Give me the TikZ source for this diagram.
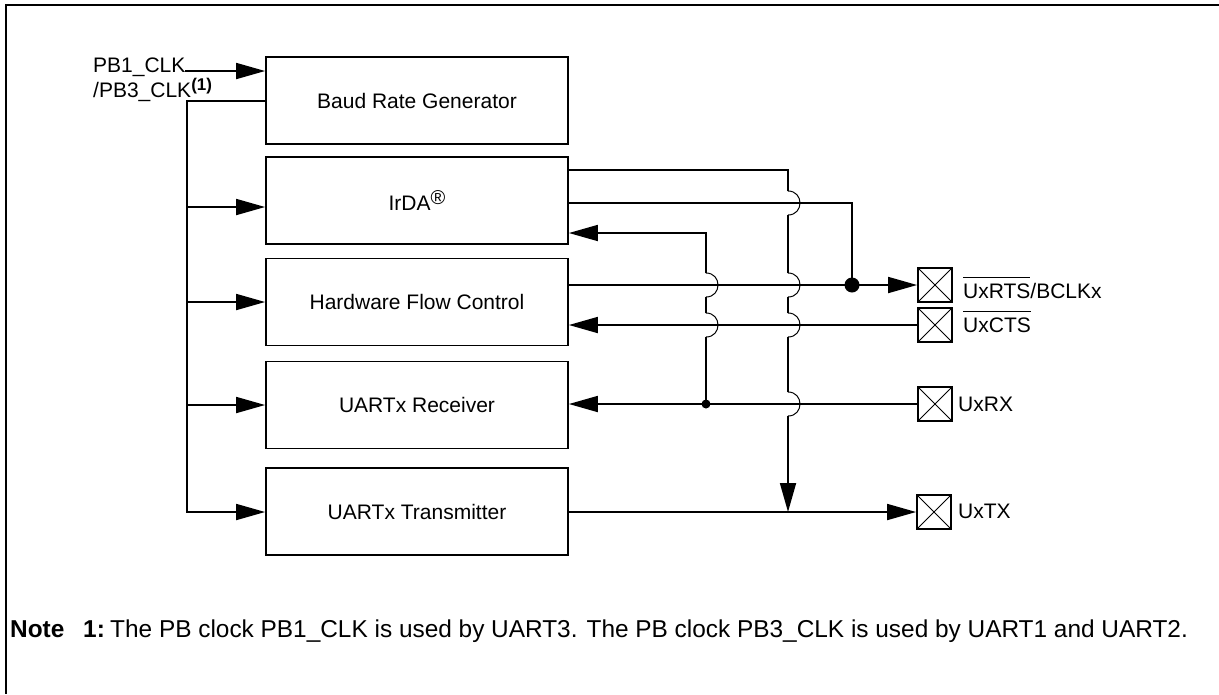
\documentclass[tikz,border=0pt]{standalone}
\usepackage{fontspec}
\setmainfont{Liberation Sans}
\usetikzlibrary{arrows.meta}
\newcommand\ovline[1]{\leavevmode\vbox{\hrule height 1.3pt\kern 5pt\hbox{#1}}}
\newcommand\supsm[1]{\raisebox{7pt}{\fontsize{17}{17}\selectfont #1}}
\begin{document}
\begin{tikzpicture}[x=1pt,y=-1pt,
  lblfont/.style={font=\fontsize{21}{25}\selectfont},
  box/.style={draw, line width=1.8pt, minimum width=302pt, minimum height=87pt, inner sep=0pt, lblfont},
  wire/.style={line width=1.8pt},
  jumpst/.style={line width=1pt},
  arr/.style={wire, -{Triangle[length=29pt,width=16pt]}},
  pad/.style={draw, line width=1.8pt, minimum size=34pt, inner sep=0pt,
    path picture={\draw[line width=0.8pt] (path picture bounding box.south west) -- (path picture bounding box.north east)
      (path picture bounding box.north west) -- (path picture bounding box.south east);}},
  lbl/.style={inner sep=0pt, lblfont},
  notef/.style={inner sep=0pt, font=\fontsize{24.4}{28}\selectfont},
]
\useasboundingbox (0,0) rectangle (1219,694);
\draw[line width=2pt] (1219,5) -- (6,5) -- (6,694);

% blocks
\node[box] (baud) at (417,100.5) {Baud Rate Generator};
\node[box] (irda) at (417,200.5) {IrDA\raisebox{6pt}{\fontsize{20}{20}\selectfont\textregistered}};
\node[box] (hfc)  at (417,302)   {Hardware Flow Control};
\node[box] (rx)   at (417,405)   {UARTx Receiver};
\node[box] (tx)   at (417,511.5) {UARTx Transmitter};

% pads
\node[pad] (rts) at (935,285) {};
\node[pad] (cts) at (935,325) {};
\node[pad] (rxp) at (935,404) {};
\node[pad] (txp) at (934,512) {};

% pad labels
\node[lbl, anchor=base west] (rtsl) at (963,298) {\ovline{UxRTS}/BCLKx};
\node[lbl, anchor=base west] (ctsl) at (963,332) {\ovline{UxCTS}};
\node[lbl, anchor=base west] (rxl)  at (958,411) {UxRX};
\node[lbl, anchor=base west] (txl)  at (958,518) {UxTX};

% clock input
\node[inner sep=0pt, anchor=north west, align=left, font=\fontsize{21}{18}\selectfont]
  (pbclk) at (93,58) {PB1\_CLK\\/PB3\_CLK\supsm{\textbf{(1)}}};
\coordinate (pbend) at (185,71);
\draw[arr] (pbend) -- (baud.west |- pbend);
\draw[arr] (baud.west |- 0,101) -| (187,512) -- (tx.west |- 0,512);
\foreach \n/\y in {irda/207, hfc/302, rx/405}
  \draw[arr] (187,\y) -- (\n.west |- 0,\y);

% IrDA output 1 -> down to TX line
\draw[wire] (irda.east |- 0,170) -| (788,191);
\draw[wire] (788,215) -- (788,273) (788,297) -- (788,313) (788,337) -- (788,392);
\draw[arr] (788,416) -- (788,512);
\foreach \y in {203,285,325,404}
  \draw[jumpst] (788,\y-12) .. controls (804,\y-12) and (804,\y+12) .. (788,\y+12);

% IrDA output 2 -> joins RTS line
\draw[wire] (irda.east |- 0,203) -| (852,285);
\fill (852,285) circle[radius=7.5pt];

% RX feed into IrDA
\draw[wire] (706,404) -- (706,337) (706,313) -- (706,297);
\draw[arr] (706,273) -- (706,233) -- (irda.east |- 0,233);
\foreach \y in {285,325}
  \draw[jumpst] (706,\y-12) .. controls (722,\y-12) and (722,\y+12) .. (706,\y+12);
\fill (706,404) circle[radius=4.5pt];

% horizontal signals
\draw[arr] (hfc.east |- 0,285) -- (rts.west);
\draw[arr] (cts.west) -- (hfc.east |- 0,325);
\draw[arr] (rxp.west) -- (rx.east |- 0,404);
\draw[arr] (tx.east |- 0,512) -- (txp.west);

% note
\node[notef, anchor=base west] (note) at (10,637) {\textbf{Note}};
\node[notef, anchor=base west] (n1) at (83,637) {\textbf{1:}};
\node[notef, anchor=base west] (ntext) at (110,637) {The PB clock PB1\_CLK is used by UART3. The PB clock PB3\_CLK is used by UART1 and UART2.};
\end{tikzpicture}
\end{document}
